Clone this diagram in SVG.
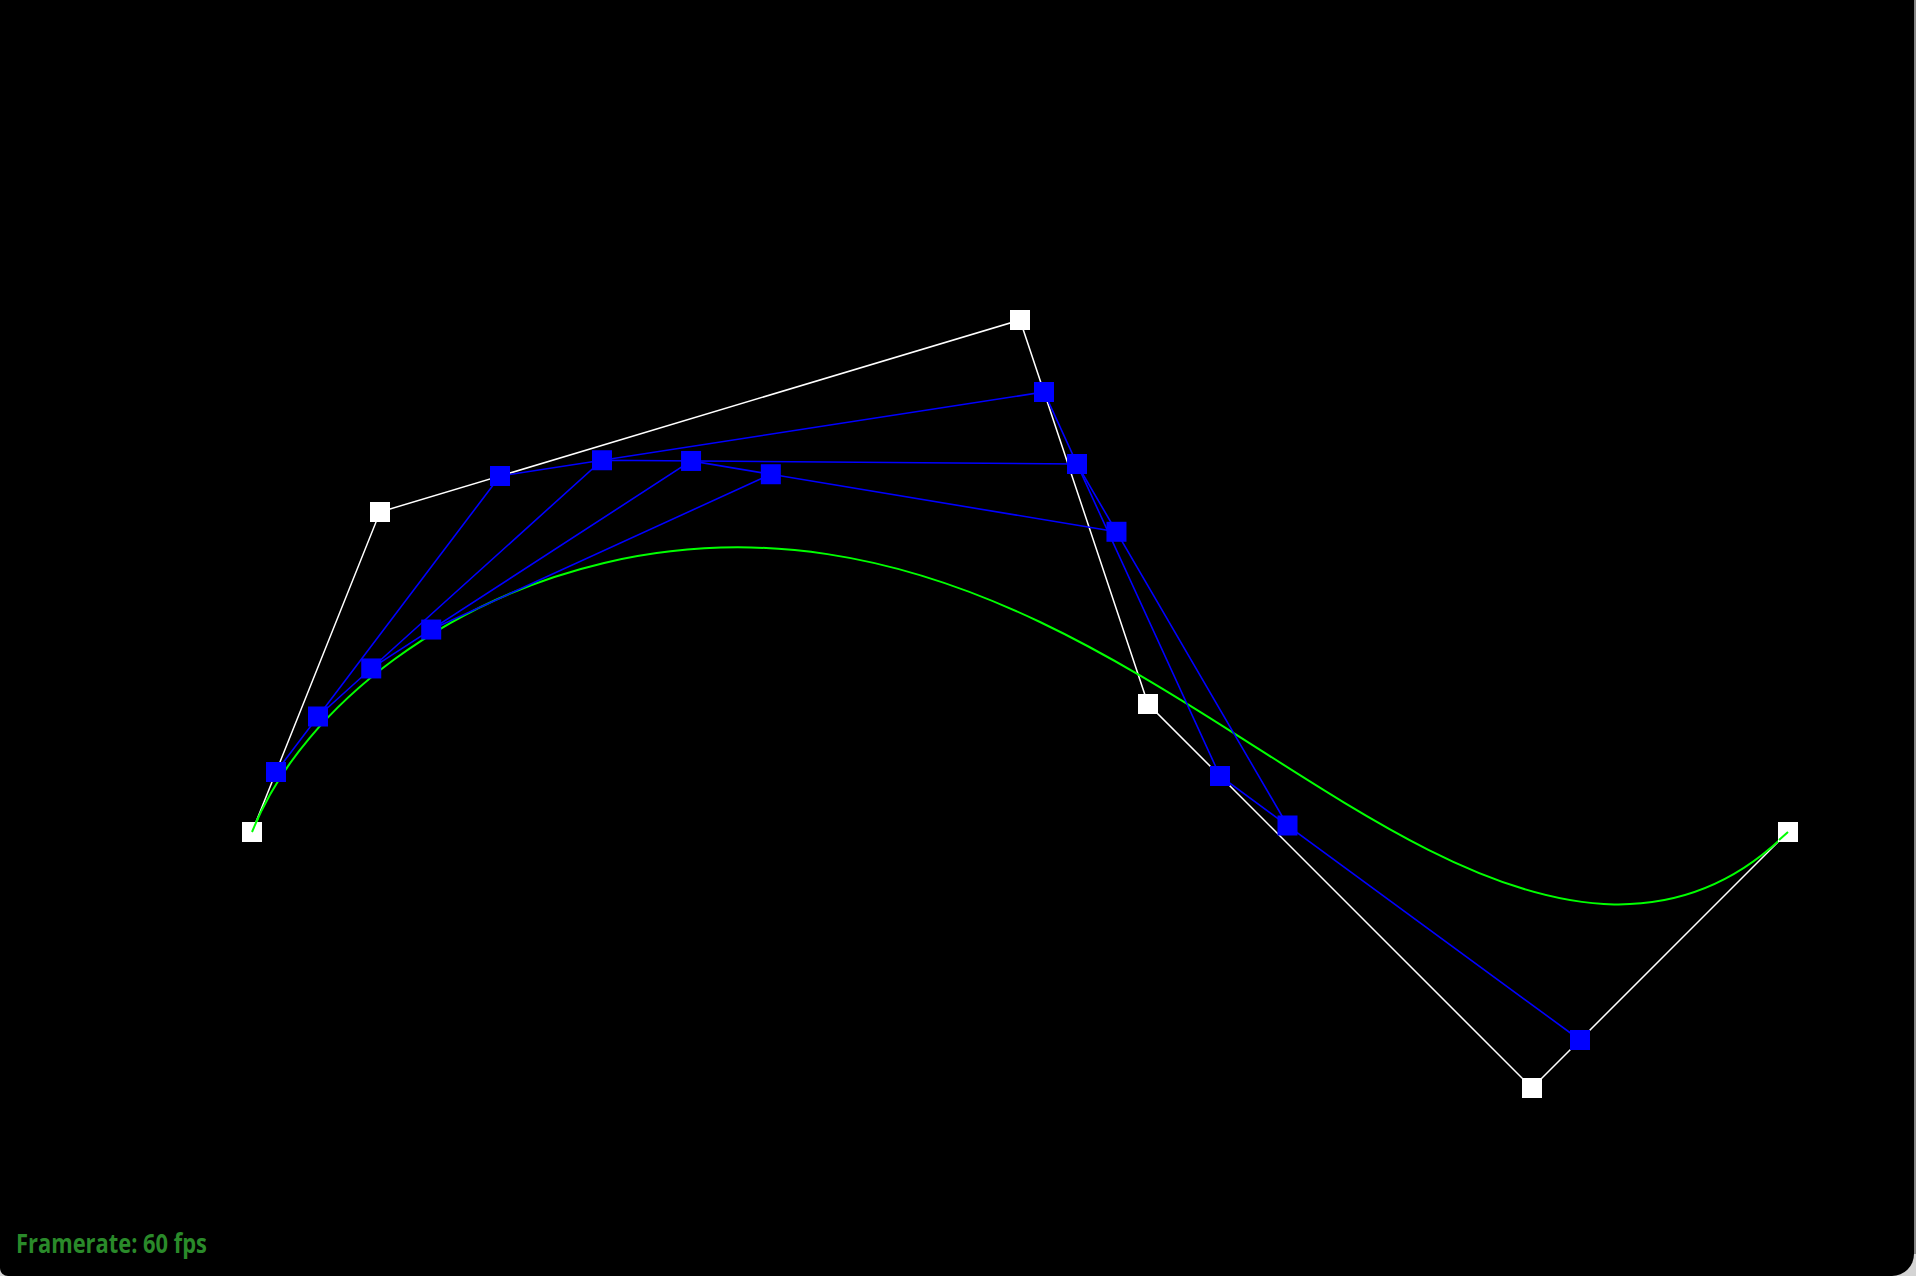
<svg xmlns="http://www.w3.org/2000/svg" width="1916" height="1276" viewBox="0 0 1916 1276">
<style>
.poly{fill:none;stroke:#ffffff;stroke-width:1.5}
.sub{fill:none;stroke:#0000ff;stroke-width:1.6}
.curve{fill:none;stroke:#00ff00;stroke-width:2}
.cp{fill:#ffffff}
.ip{fill:#0000ff}
.fps{font-family:"Liberation Sans Narrow","Open Sans","Liberation Sans",sans-serif;font-weight:bold;font-size:26px;fill:#2a8a2a}
</style>
<defs>
<rect id="sq" x="-10" y="-10" width="20" height="20"/>
</defs>
<rect x="0" y="0" width="1916" height="1276" fill="#d4d4d4"/>
<path d="M0,0 H1914 V1254 A22,22 0 0 1 1892,1276 H8 A8,8 0 0 1 0,1268 Z" fill="#000000"/>
<line x1="1915" y1="0" x2="1915" y2="1254" stroke="#3a3a3a" stroke-width="1"/>
<g id="connectors">
<polyline id="control-polygon" class="poly" points="252,832 380,512 1020,320 1148,704 1532,1088 1788,832"/>
<path id="bezier-curve" class="curve" d="M252,832 C278.67,765.33 331.33,705.73 394.10,659.53 C456.87,613.33 529.85,580.49 604.13,562.94 C678.40,545.39 754.07,543.08 827.36,554.12 C900.64,565.16 971.67,589.5 1040,622 C1108.33,654.5 1174.10,695.12 1238.43,736.05 C1302.76,776.99 1365.77,818.20 1428.38,849.81 C1490.98,881.43 1553.29,903.41 1614.18,904.39 C1675.07,905.38 1734.67,885.33 1788,832"/>
<polyline id="level1" class="sub" points="276,772 500,476 1044,392 1220,776 1580,1040"/>
<polyline id="level2" class="sub" points="318,716.5 602,460.25 1077,464 1287.5,825.5"/>
<polyline id="level3" class="sub" points="371.25,668.45 691.06,460.95 1116.47,531.78"/>
<polyline id="level4" class="sub" points="431.21,629.54 770.82,474.23"/>
</g>
<g id="p0"><use href="#sq" class="cp" x="252" y="832"/></g>
<g id="p1"><use href="#sq" class="cp" x="380" y="512"/></g>
<g id="p2"><use href="#sq" class="cp" x="1020" y="320"/></g>
<g id="p3"><use href="#sq" class="cp" x="1148" y="704"/></g>
<g id="p4"><use href="#sq" class="cp" x="1532" y="1088"/></g>
<g id="p5"><use href="#sq" class="cp" x="1788" y="832"/></g>
<path class="curve" d="M252,832 L258,818 M1788,832 L1779,840"/>
<g id="q0"><use href="#sq" class="ip" x="276" y="772"/></g>
<g id="q1"><use href="#sq" class="ip" x="500" y="476"/></g>
<g id="q2"><use href="#sq" class="ip" x="1044" y="392"/></g>
<g id="q3"><use href="#sq" class="ip" x="1220" y="776"/></g>
<g id="q4"><use href="#sq" class="ip" x="1580" y="1040"/></g>
<g id="r0"><use href="#sq" class="ip" x="318" y="716.5"/></g>
<g id="r1"><use href="#sq" class="ip" x="602" y="460.25"/></g>
<g id="r2"><use href="#sq" class="ip" x="1077" y="464"/></g>
<g id="r3"><use href="#sq" class="ip" x="1287.5" y="825.5"/></g>
<g id="s0"><use href="#sq" class="ip" x="371.25" y="668.45"/></g>
<g id="s1"><use href="#sq" class="ip" x="691.06" y="460.95"/></g>
<g id="s2"><use href="#sq" class="ip" x="1116.47" y="531.78"/></g>
<g id="t0"><use href="#sq" class="ip" x="431.21" y="629.54"/></g>
<g id="t1"><use href="#sq" class="ip" x="770.82" y="474.23"/></g>
<g id="framerate"><text class="fps" x="16" y="1253" textLength="191" lengthAdjust="spacingAndGlyphs">Framerate: 60 fps</text></g>
</svg>
